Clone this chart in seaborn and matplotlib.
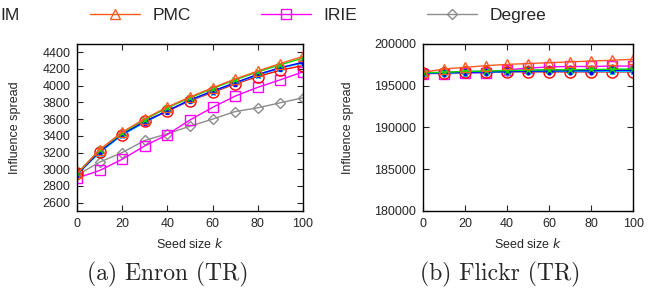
import numpy as np
import pandas as pd
import seaborn as sns
import matplotlib.pyplot as plt
from matplotlib.lines import Line2D

sns.set_style("ticks")
plt.rcParams['font.family'] = ['Liberation Sans', 'DejaVu Sans']

k = [0, 10, 20, 30, 40, 50, 60, 70, 80, 90, 100]

# Enron (TR)
enron_pmc = [2950, 3235, 3445, 3605, 3745, 3865, 3975, 4080, 4175, 4265, 4350]
enron_green = [2950, 3230, 3435, 3595, 3735, 3855, 3965, 4070, 4165, 4250, 4330]
enron_blue = [2940, 3210, 3420, 3570, 3700, 3830, 3935, 4035, 4135, 4215, 4280]
enron_cyan = [2940, 3200, 3410, 3560, 3700, 3825, 3930, 4030, 4125, 4210, 4270]
enron_im = [2950, 3210, 3415, 3575, 3695, 3820, 3920, 4020, 4110, 4185, 4240]
enron_irie = [2895, 2985, 3120, 3280, 3415, 3590, 3740, 3875, 3980, 4070, 4165]
enron_degree = [2930, 3085, 3200, 3345, 3425, 3515, 3600, 3690, 3735, 3795, 3855]

# Flickr (TR)
flickr_pmc = [196600, 197000, 197200, 197400, 197550, 197650, 197750, 197850, 197950, 198050, 198150]
flickr_green = [196550, 196600, 196700, 196750, 196800, 196850, 196900, 196900, 196950, 196950, 197000]
flickr_blue = [196500, 196550, 196600, 196650, 196700, 196750, 196750, 196800, 196800, 196850, 196850]
flickr_cyan = [196500, 196500, 196550, 196600, 196650, 196700, 196700, 196700, 196700, 196700, 196700]
flickr_im = [196550, 196550, 196600, 196600, 196650, 196650, 196650, 196650, 196650, 196650, 196650]
flickr_irie = [196450, 196450, 196500, 196550, 196900, 197100, 197250, 197300, 197300, 197350, 197350]
flickr_degree = [196500, 196600, 196700, 196750, 196800, 196850, 196900, 196900, 196900, 196950, 196950]

names = ["IM", "Blue", "Green", "Cyan", "PMC", "IRIE", "Degree"]
colors = {"IM": "#ff0000", "Blue": "#0000ff", "Green": "#00e000", "Cyan": "#00c8ff",
          "PMC": "#ff5a1e", "IRIE": "#ff00ff", "Degree": "#8c8c8c"}
markers = {"IM": "o", "Blue": "P", "Green": "x", "Cyan": "*",
           "PMC": "^", "IRIE": "s", "Degree": "D"}
msize = {"IM": 8, "Blue": 4, "Green": 5, "Cyan": 4.5, "PMC": 7, "IRIE": 7.5, "Degree": 5}


def make_df(series):
    rows = []
    for name, vals in zip(names, series):
        for x, v in zip(k, vals):
            rows.append({"k": x, "spread": v, "method": name})
    return pd.DataFrame(rows)


enron = make_df([enron_im, enron_blue, enron_green, enron_cyan, enron_pmc, enron_irie, enron_degree])
flickr = make_df([flickr_im, flickr_blue, flickr_green, flickr_cyan, flickr_pmc, flickr_irie, flickr_degree])

fig = plt.figure(figsize=(6.54, 2.89), dpi=100)
ax1 = fig.add_axes([0.118, 0.270, 0.345, 0.578])
ax2 = fig.add_axes([0.647, 0.270, 0.321, 0.578])

draw_order = ["Degree", "IRIE", "IM", "Cyan", "Blue", "Green", "PMC"]
for ax, df in [(ax1, enron), (ax2, flickr)]:
    for name in draw_order:
        sub = df[df.method == name]
        filled = markers[name] in ("x", "P", "*")
        sns.lineplot(ax=ax, data=sub, x="k", y="spread", color=colors[name],
                     marker=markers[name], markersize=msize[name], linewidth=1,
                     markerfacecolor=colors[name] if filled else "none",
                     markeredgecolor=colors[name], markeredgewidth=1, legend=False)
    ax.set_xlim(0, 100)
    ax.set_xticks([0, 20, 40, 60, 80, 100])
    ax.tick_params(direction="in", top=True, right=True, labelsize=9, length=4, pad=5)
    for s in ax.spines.values():
        s.set_visible(True)
        s.set_linewidth(1)
        s.set_color("black")
    ax.set_xlabel("Seed size $\\it{k}$", fontsize=9, labelpad=5)
    ax.set_ylabel("Influence spread", fontsize=9)

ax1.set_ylim(2500, 4500)
ax1.set_yticks(np.arange(2600, 4401, 200))
ax2.set_ylim(180000, 200000)
ax2.set_yticks(np.arange(180000, 200001, 5000))
ax1.yaxis.set_label_coords(-0.25, 0.5)
ax2.yaxis.set_label_coords(-0.33, 0.5)

fig.text(0.256, 0.05, "(a) Enron (TR)", family="cmr10", fontsize=17, ha="center", va="center")
fig.text(0.765, 0.05, "(b) Flickr (TR)", family="cmr10", fontsize=17, ha="center", va="center")

# legend row (cropped at the left in the original)
fig.text(0.001, 0.945, "IM", fontsize=12.5, va="center", ha="left")
handles = [Line2D([], [], color=colors[n], marker=markers[n], markersize=msize[n],
                  markerfacecolor="none", linewidth=1) for n in ["PMC", "IRIE", "Degree"]]
fig.legend(handles, ["PMC", "IRIE", "Degree"], loc="center left", bbox_to_anchor=(0.1376, 0.945),
           ncol=3, frameon=False, fontsize=12.5, handlelength=2.9, columnspacing=4.03,
           handletextpad=0.7, borderaxespad=0, borderpad=0)

fig.savefig("out.png", dpi=100)
